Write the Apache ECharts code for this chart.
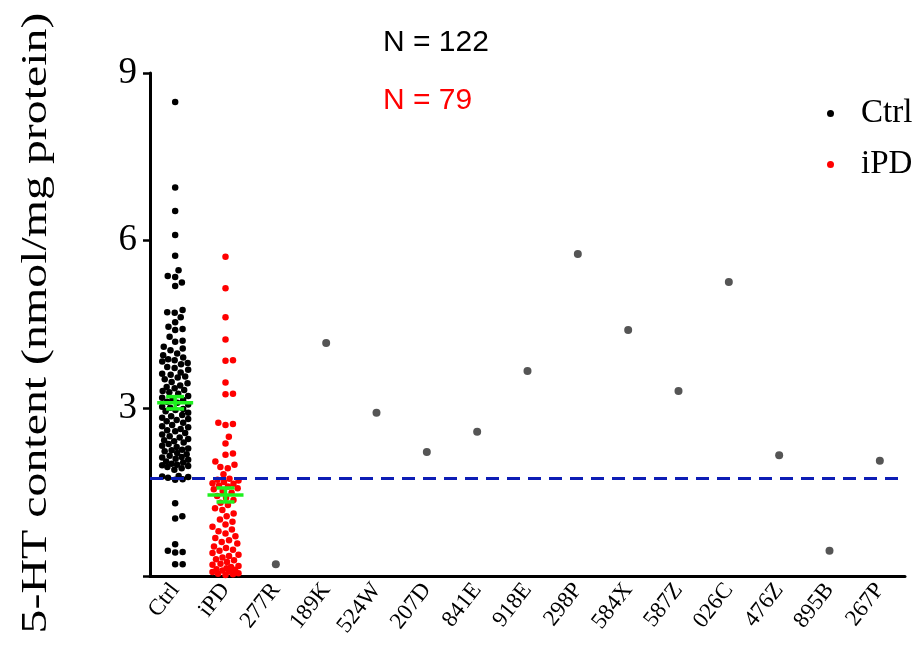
<!DOCTYPE html>
<html>
<head>
<meta charset="utf-8">
<title>5-HT content</title>
<script src="https://cdn.jsdelivr.net/npm/echarts@6/dist/echarts.min.js"></script>
<style>
  html, body { margin: 0; padding: 0; background: #fff; }
  #chart { width: 917px; height: 650px; }
</style>
</head>
<body>
<div id="chart"></div>
<script>
// Category labels along the x axis
const categories = ['Ctrl', 'iPD', '277R', '189K', '524W', '207D', '841E', '918E',
  '298P', '584X', '587Z', '026C', '476Z', '895B', '267P'];

// Control group, 5-HT (nmol/mg protein), n = 122
const ctrlValues = [
  8.48, 6.95, 6.53, 6.10, 5.73, 5.47, 5.37, 5.35, 5.25, 5.19,
  4.76, 4.72, 4.71, 4.63, 4.54, 4.46, 4.42, 4.40, 4.28, 4.21, 4.19, 4.10, 4.07, 4.04,
  3.98, 3.95, 3.91, 3.88, 3.86, 3.84, 3.81, 3.79, 3.74, 3.72, 3.69, 3.64, 3.62, 3.60,
  3.57, 3.55, 3.52, 3.47, 3.45, 3.41, 3.38, 3.36, 3.33, 3.31, 3.29, 3.26, 3.22, 3.19,
  3.17, 3.15, 3.12, 3.10, 3.07, 3.03, 3.01, 2.99, 2.97, 2.95, 2.92, 2.88, 2.86, 2.83,
  2.81, 2.79, 2.77, 2.74, 2.70, 2.68, 2.66, 2.63, 2.61, 2.59, 2.56, 2.53, 2.50, 2.48,
  2.45, 2.43, 2.41, 2.39, 2.36, 2.33, 2.31, 2.28, 2.26, 2.25, 2.23, 2.20, 2.18, 2.15,
  2.13, 2.12, 2.10, 2.08, 2.05, 2.03, 2.01, 1.99, 1.98, 1.97, 1.95, 1.93, 1.90,
  1.79, 1.78, 1.77, 1.76, 1.73, 1.72,
  1.30, 1.07, 1.03, 0.57, 0.45, 0.43, 0.42, 0.21, 0.21
];

// Idiopathic PD group, n = 79
const ipdValues = [
  5.71, 5.15, 4.63, 4.23, 3.86, 3.85, 3.46, 3.26, 3.25, 2.74, 2.72, 2.70, 2.49, 2.37,
  2.19, 2.17, 2.05, 1.99, 1.95, 1.93, 1.82,
  1.74, 1.72, 1.71, 1.68, 1.66, 1.65, 1.62, 1.60, 1.57, 1.55, 1.52, 1.49,
  1.43, 1.40, 1.36, 1.31, 1.27, 1.21, 1.18, 1.12, 1.07, 1.01,
  0.97, 0.92, 0.88, 0.83, 0.80, 0.76, 0.71, 0.68, 0.64, 0.61, 0.58,
  0.53, 0.50, 0.47, 0.45, 0.41, 0.38, 0.36, 0.33, 0.30, 0.28, 0.25, 0.22, 0.20,
  0.18, 0.16, 0.14, 0.12, 0.10, 0.08, 0.07, 0.05, 0.04, 0.03, 0.02, 0.11
];

// Individual samples, one value each (277R ... 267P)
const sampleValues = [0.21, 4.17, 2.92, 2.22, 2.58, 3.67, 5.76, 4.40, 3.31, 5.26, 2.16, 0.45, 2.06];

// Group mean and SEM (Ctrl, iPD)
const groupMeans = [3.10, 1.45];
const groupSems = [0.11, 0.125];

// Cut-off level (dashed line)
const cutoffValue = 1.75;

// Group sizes shown above the plot
const groupCountLabels = ['N = 122', 'N = 79'];

// Y axis range
const yMin = 0, yMax = 9, yStep = 3;

// ---- layout ----
const W = 917, H = 650;
const grid = { left: 150, right: 12, top: 73, bottom: 74 };
const pxPerUnit = (H - grid.top - grid.bottom) / (yMax - yMin);
const dotSize = 6.5;

// Beeswarm: horizontal offsets so dots in a column do not overlap,
// kept within a fixed half-width; when a row is full the least-crowded slot is used.
function swarmOffsets(values, minDist, maxHalf) {
  const order = values.map((v, i) => i).sort((a, b) => values[a] - values[b]);
  const placed = [];
  const offsets = new Array(values.length).fill(0);
  order.forEach(idx => {
    const y = values[idx] * pxPerUnit;
    const near = placed.filter(p => Math.abs(p.y - y) < minDist);
    const clearance = c => near.reduce((m, p) => {
      const ddx = p.x - c, ddy = p.y - y;
      return Math.min(m, Math.sqrt(ddx * ddx + ddy * ddy));
    }, Infinity);
    const candidates = [0];
    near.forEach(p => {
      const dx = Math.sqrt(minDist * minDist - (p.y - y) * (p.y - y));
      candidates.push(p.x + dx, p.x - dx);
    });
    candidates.sort((a, b) => Math.abs(a) - Math.abs(b));
    let chosen = null;
    for (const c of candidates) {
      if (Math.abs(c) > maxHalf) continue;
      if (clearance(c) >= minDist - 1e-6) { chosen = c; break; }
    }
    if (chosen === null) {
      let best = 0, bestGap = -1;
      for (let c = -maxHalf; c <= maxHalf; c += 0.5) {
        const g = clearance(c);
        if (g > bestGap + 1e-9) { bestGap = g; best = c; }
      }
      chosen = best;
    }
    placed.push({ x: chosen, y });
    offsets[idx] = chosen;
  });
  return offsets;
}

function swarmData(catIndex, values) {
  const offs = swarmOffsets(values, 7.5, 13);
  return values.map((v, i) => ({ value: [catIndex, v], symbolOffset: [offs[i], 0] }));
}

const serifFont = '"Liberation Serif", "Times New Roman", serif';
const sansFont = '"Liberation Sans", Arial, sans-serif';

const chart = echarts.init(document.getElementById('chart'), null, { renderer: 'canvas' });

chart.setOption({
  backgroundColor: '#ffffff',
  animation: false,
  grid: { left: grid.left, right: grid.right, top: grid.top, bottom: grid.bottom, containLabel: false },
  legend: {
    data: ['Ctrl', 'iPD'],
    orient: 'vertical',
    left: 822,
    top: 92,
    icon: 'circle',
    itemWidth: 7,
    itemHeight: 7,
    itemGap: 18,
    textStyle: { fontFamily: serifFont, fontSize: 33, color: '#000', padding: [0, 0, 0, 22] }
  },
  xAxis: {
    type: 'category',
    data: categories,
    boundaryGap: true,
    axisLine: { lineStyle: { color: '#000', width: 3 } },
    axisTick: { alignWithLabel: true, length: 8, lineStyle: { color: '#000', width: 2.5 } },
    axisLabel: { interval: 0, rotate: 52, margin: 10, color: '#000', fontFamily: serifFont, fontSize: 23 },
    splitLine: { show: false }
  },
  yAxis: {
    type: 'value',
    min: yMin,
    max: yMax,
    interval: yStep,
    axisLine: { show: true, lineStyle: { color: '#000', width: 3 } },
    axisTick: { show: true, length: 7, lineStyle: { color: '#000', width: 2.5 } },
    axisLabel: {
      margin: 13, color: '#000', fontFamily: serifFont, fontSize: 37,
      formatter: v => (v === 0 ? '' : String(v))
    },
    splitLine: { show: false }
  },
  graphic: [
    {
      type: 'text',
      x: 37, y: 323,
      rotation: Math.PI / 2,
      scaleX: 1.33,
      style: {
        text: '5-HT content (nmol/mg protein)',
        fontFamily: serifFont, fontSize: 36, fill: '#000',
        align: 'center', verticalAlign: 'middle',
        textAlign: 'center', textVerticalAlign: 'middle'
      }
    },
    {
      type: 'text', x: 383, y: 43,
      style: {
        text: groupCountLabels[0], fontFamily: sansFont, fontSize: 30, fill: '#000',
        align: 'left', verticalAlign: 'middle', textAlign: 'left', textVerticalAlign: 'middle'
      }
    },
    {
      type: 'text', x: 383, y: 101,
      style: {
        text: groupCountLabels[1], fontFamily: sansFont, fontSize: 30, fill: '#ff0000',
        align: 'left', verticalAlign: 'middle', textAlign: 'left', textVerticalAlign: 'middle'
      }
    }
  ],
  series: [
    {
      name: 'Ctrl',
      type: 'scatter',
      symbol: 'circle',
      symbolSize: dotSize,
      itemStyle: { color: '#000000', opacity: 1 },
      data: swarmData(0, ctrlValues),
      z: 3
    },
    {
      name: 'iPD',
      type: 'scatter',
      symbol: 'circle',
      symbolSize: dotSize,
      itemStyle: { color: '#ff0000', opacity: 1 },
      data: swarmData(1, ipdValues),
      z: 3
    },
    {
      name: 'Samples',
      type: 'scatter',
      symbol: 'circle',
      symbolSize: 8,
      itemStyle: { color: '#555555', opacity: 1 },
      data: sampleValues.map((v, i) => [i + 2, v]),
      z: 3,
      markLine: {
        silent: true,
        symbol: ['none', 'none'],
        label: { show: false },
        lineStyle: { color: '#0d1db5', type: [13, 8], width: 3, opacity: 1 },
        data: [{ yAxis: cutoffValue }],
        z: 4
      }
    },
    {
      name: 'Mean ± SEM',
      type: 'custom',
      z: 5,
      data: groupMeans.map((m, i) => [i, m, groupSems[i]]),
      renderItem: function (params, api) {
        const cat = api.value(0), mean = api.value(1), sem = api.value(2);
        const c = api.coord([cat, mean]);
        const hi = api.coord([cat, mean + sem]);
        const lo = api.coord([cat, mean - sem]);
        const st = { stroke: '#1ef01e', lineWidth: 3.5, fill: null };
        const line = (x1, y1, x2, y2) => ({ type: 'line', shape: { x1, y1, x2, y2 }, style: st });
        return {
          type: 'group',
          children: [
            line(c[0] - 18, c[1], c[0] + 18, c[1]),
            line(c[0], hi[1], c[0], lo[1]),
            line(c[0] - 9, hi[1], c[0] + 9, hi[1]),
            line(c[0] - 9, lo[1], c[0] + 9, lo[1])
          ]
        };
      }
    }
  ]
});
</script>
</body>
</html>
